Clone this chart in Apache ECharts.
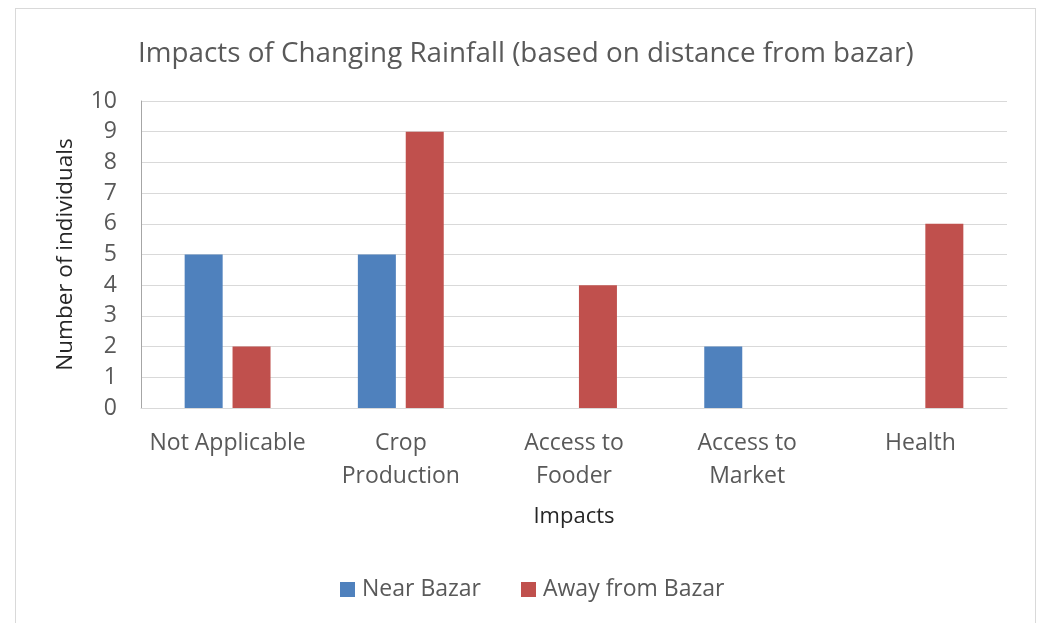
<!DOCTYPE html>
<html>
<head>
<meta charset="utf-8">
<script src="https://cdn.jsdelivr.net/npm/echarts@6/dist/echarts.min.js"></script>
<style>
html, body { margin: 0; padding: 0; background: #fff; }
#frame { position: absolute; left: 15px; top: 8px; width: 1021px; height: 630px; border: 1px solid #d9d9d9; box-sizing: border-box; }
#chart { position: absolute; left: 0; top: 0; width: 1039px; height: 623px; }
</style>
</head>
<body>
<div id="frame"></div>
<div id="chart"></div>
<script>
// data
var categories = ['Not Applicable', 'Crop\nProduction', 'Access to\nFooder', 'Access to\nMarket', 'Health'];
var nearBazar = [5, 5, 0, 2, 0];
var awayBazar = [2, 9, 4, 0, 6];
var yTicks = [0, 10, 1]; // min, max, interval

var font = 'Open Sans';
var myChart = echarts.init(document.getElementById('chart'));
var option = {
    backgroundColor: 'transparent',
    animation: false,
    textStyle: { fontFamily: font },
    title: {
        text: 'Impacts of Changing Rainfall (based on distance from bazar)',
        left: 133, top: 35,
        textStyle: { fontFamily: font, fontSize: 27.8, fontWeight: 'normal', color: '#595959' }
    },
    legend: {
        bottom: 17, left: 335,
        itemWidth: 15, itemHeight: 15, itemGap: 40,
        icon: 'rect',
        textStyle: { fontFamily: font, fontSize: 23, color: '#595959', padding: [0, 0, 0, 2] },
        data: ['Near Bazar', 'Away from Bazar']
    },
    grid: { left: 141, right: 32, top: 101, bottom: 215 },
    xAxis: {
        type: 'category',
        data: categories,
        name: 'Impacts',
        nameLocation: 'middle',
        nameGap: 98,
        nameTextStyle: { fontFamily: font, fontSize: 22, color: '#262626' },
        axisLine: { lineStyle: { color: '#d9d9d9', width: 1 } },
        axisTick: { show: false },
        axisLabel: { fontFamily: font, fontSize: 23, color: '#595959', margin: 19, lineHeight: 33, interval: 0 }
    },
    yAxis: {
        type: 'value',
        min: yTicks[0], max: yTicks[1], interval: yTicks[2],
        name: 'Number of individuals',
        nameLocation: 'middle',
        nameGap: 64,
        nameTextStyle: { fontFamily: font, fontSize: 22.5, color: '#262626' },
        axisLine: { show: true, lineStyle: { color: '#a6a6a6', width: 1 } },
        axisTick: { show: false },
        axisLabel: { fontFamily: font, fontSize: 23, color: '#595959', margin: 24 },
        splitLine: { lineStyle: { color: '#d9d9d9', width: 1 } }
    },
    series: [
        { name: 'Near Bazar', type: 'bar', data: nearBazar, barWidth: 38, barGap: '26%', itemStyle: { color: '#4f81bd' } },
        { name: 'Away from Bazar', type: 'bar', data: awayBazar, barWidth: 38, itemStyle: { color: '#c0504d' } }
    ]
};
myChart.setOption(option);
</script>
</body>
</html>
